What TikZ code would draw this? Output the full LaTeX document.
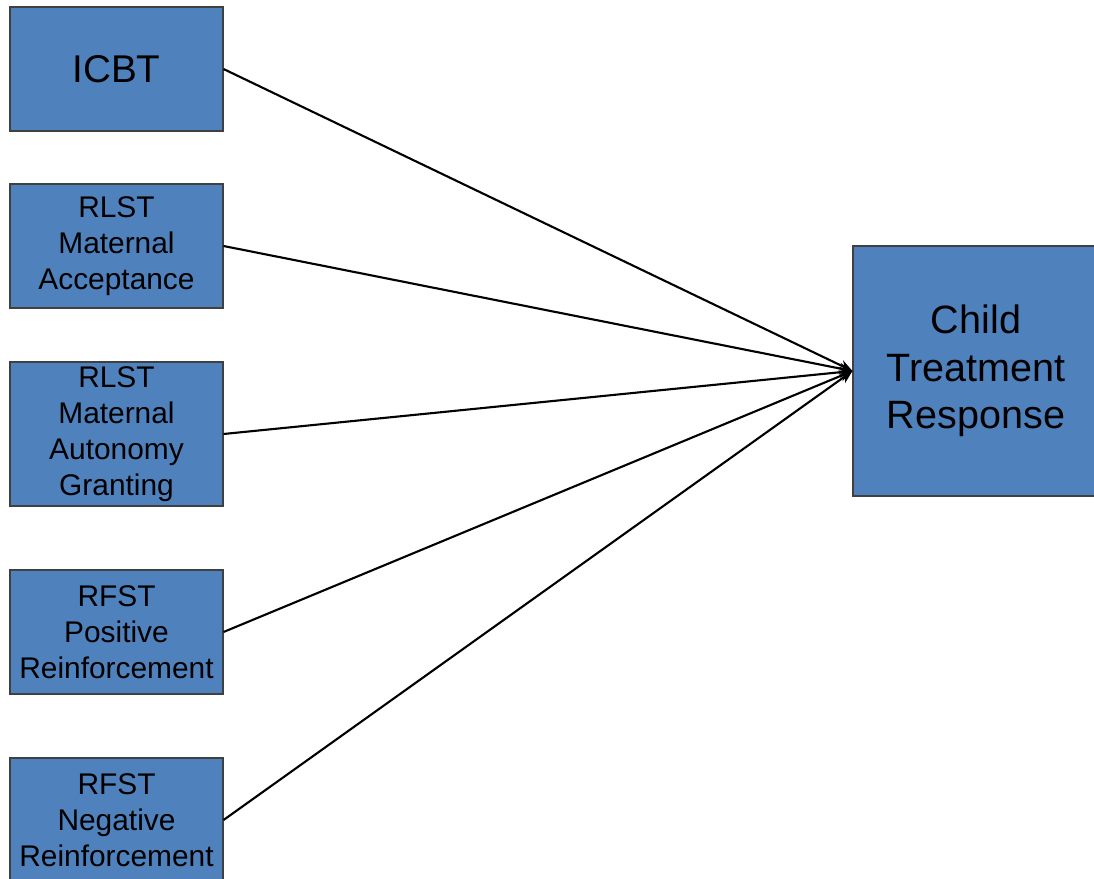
\documentclass[tikz,border=0pt]{standalone}
\usepackage{fontspec}
\setmainfont{Liberation Sans}
\usetikzlibrary{arrows.meta}
\definecolor{boxblue}{RGB}{79,129,189}
\tikzset{
    factor/.style={draw=black!75, line width=0.6pt, fill=boxblue, align=center, inner sep=0pt,
        minimum width=4.26cm, minimum height=2.48cm, font=\fontsize{17}{20.5}\selectfont},
    path/.style={line width=1.2pt, -{Stealth[length=2.6mm,width=2.2mm]}}
}
\begin{document}
\begin{tikzpicture}[x=0.2mm,y=-0.2mm]
    \useasboundingbox (0,0) rectangle (1094,879);
    % predictors
    \node[factor,font=\fontsize{22}{27}\selectfont] (icbt) at (116.5,69) {ICBT};
    \node[factor] (accept) at (116.5,246) {RLST\\Maternal\\Acceptance};
    \node[factor,minimum height=2.88cm] (autonomy) at (116.5,434) {RLST\\Maternal\\Autonomy\\Granting};
    \node[factor] (posrein) at (116.5,632) {RFST\\Positive\\Reinforcement};
    \node[factor] (negrein) at (116.5,820) {RFST\\Negative\\Reinforcement};
    % outcome
    \node[factor,minimum width=4.92cm,minimum height=5cm,font=\fontsize{22.5}{27}\selectfont] (resp) at (976,371) {Child\\Treatment\\Response};

    \foreach \p in {icbt,accept,autonomy,posrein,negrein} {
        \draw[path] (\p.east) -- (resp.west);
    }
\end{tikzpicture}
\end{document}
